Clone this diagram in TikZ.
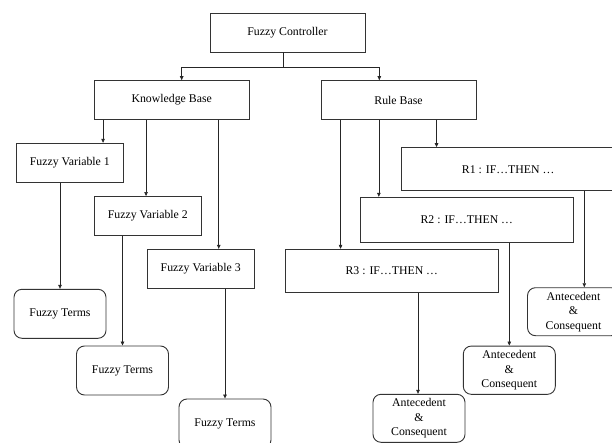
\documentclass[tikz,border=0pt]{standalone}
\usepackage{fontspec}
\setmainfont{Liberation Serif}
\usetikzlibrary{arrows.meta,positioning,calc}
\tikzset{
  % Plain box: square corners, label centred
  cbox/.style={draw=black!80, rectangle, line width=0.9pt, inner sep=0pt,
               align=center, font=\fontsize{11.8}{14.5}\selectfont},
  cbox-top/.style={cbox, minimum width=155pt, minimum height=39pt},
  cbox-var/.style={cbox, minimum width=106.5pt, minimum height=39pt},
  cbox-rule/.style={cbox, minimum width=213pt, minimum height=44pt},
  % Leaf box: rounded corners
  leafbox/.style={cbox, rounded corners=8pt, minimum width=92pt, minimum height=49pt},
  % Arrows
  flowarr/.style={-{Triangle[length=4pt,width=3.5pt]}, line width=0.7pt, draw=black!85},
  flowline/.style={line width=0.7pt, draw=black!85}
}
\begin{document}
\begin{tikzpicture}[x=1pt, y=-1pt]
\clip (0,0) rectangle (612,443);

% ============== TOP ==============
\node[cbox-top] (ctrl) at (287.5,32.5) {Fuzzy Controller};
\node[cbox-top, minimum height=38.6pt] (kb) at (171.7,100) {Knowledge Base};
\node[cbox-top, minimum height=38.6pt] (rb) at (398.5,100) {Rule Base};

\draw[flowline] ([xshift=-4.2pt]ctrl.south) -- ++(0,14.5) coordinate (split);
\draw[flowarr] (split) -| ([xshift=10pt]kb.north);
\draw[flowarr] (split) -| ([xshift=-19.2pt]rb.north);

% ============== LEFT: KNOWLEDGE BASE ==============
\node[cbox-var] (fv1) at (69.8,162.8) {Fuzzy Variable 1};
\node[cbox-var] (fv2) at (147.8,216) {Fuzzy Variable 2};
\node[cbox-var] (fv3) at (200.7,268.8) {Fuzzy Variable 3};

\draw[flowarr] ([xshift=9.3pt]kb.south west) -- ([xshift=9.3pt]kb.south west |- fv1.north);
\draw[flowarr] ([xshift=52.3pt]kb.south west) -- ([xshift=52.3pt]kb.south west |- fv2.north);
\draw[flowarr] ([xshift=125pt]kb.south west) -- ([xshift=125pt]kb.south west |- fv3.north);

\node[leafbox] (ft1) at (60,313.8) {Fuzzy Terms};
\node[leafbox] (ft2) at (122.5,370.5) {Fuzzy Terms};
\node[leafbox] (ft3) at (225,423.5) {Fuzzy Terms};

\draw[flowarr] (ft1.north |- fv1.south) -- (ft1.north);
\draw[flowarr] (ft2.north |- fv2.south) -- (ft2.north);
\draw[flowarr] (ft3.north |- fv3.south) -- (ft3.north);

% ============== RIGHT: RULE BASE ==============
\node[cbox-rule, minimum height=43.3pt] (r1) at (508.2,169.3) {R1 : IF…THEN …};
\node[cbox-rule, minimum height=45pt] (r2) at (466.8,219.8) {R2 : IF…THEN …};
\node[cbox-rule, minimum height=43.4pt] (r3) at (391.8,271) {R3 : IF…THEN …};

\draw[flowarr] ([xshift=116pt]rb.south west) -- ([xshift=116pt]rb.south west |- r1.north);
\draw[flowarr] ([xshift=58.3pt]rb.south west) -- ([xshift=58.3pt]rb.south west |- r2.north);
\draw[flowarr] ([xshift=20pt]rb.south west) -- ([xshift=20pt]rb.south west |- r3.north);

\node[leafbox, minimum height=48pt] (ac1) at (573.5,311.7) {Antecedent\\\&\\Consequent};
\node[leafbox, minimum height=48.3pt] (ac2) at (509.3,370.2) {Antecedent\\\&\\Consequent};
\node[leafbox, minimum height=48pt] (ac3) at (419,418.3) {Antecedent\\\&\\Consequent};

\draw[flowarr] ([xshift=10.8pt]ac1.north |- r1.south) -- ([xshift=10.8pt]ac1.north);
\draw[flowarr] (ac2.north |- r2.south) -- (ac2.north);
\draw[flowarr] ([xshift=-1pt]ac3.north |- r3.south) -- ([xshift=-1pt]ac3.north);

\end{tikzpicture}
\end{document}
